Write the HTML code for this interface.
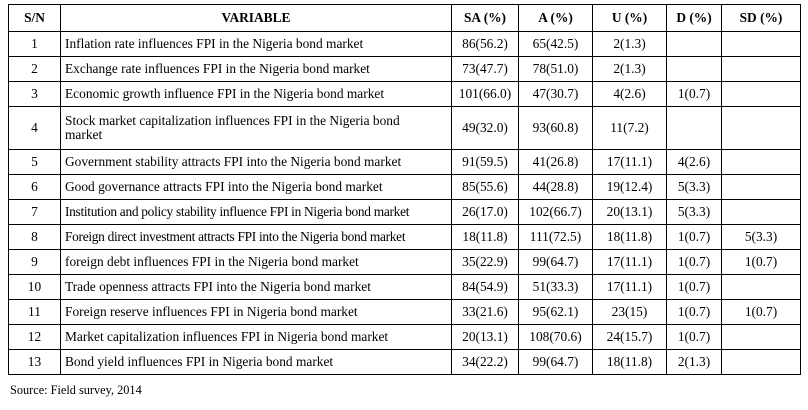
<!DOCTYPE html>
<html><head><meta charset="utf-8"><style>
body{margin:0;background:#fff;width:808px;height:410px;overflow:hidden;font-family:"Liberation Serif",serif;color:#000}
table{position:absolute;left:8px;top:4px;border-collapse:collapse;font-size:13.4px;table-layout:fixed}
td,th{border:1px solid #000;padding:0 4px;line-height:14px;overflow:hidden}
th{height:26px;font-weight:bold;text-align:center}
td{height:24px}
td.c{text-align:center}
tr.tall td{height:42px}
.src{position:absolute;left:10px;top:383px;font-size:12.3px}
</style></head><body>
<table style="width:792px">
<colgroup><col style="width:52px"><col style="width:391px"><col style="width:67px"><col style="width:74px"><col style="width:74px"><col style="width:55px"><col style="width:79px"></colgroup>
<tr><th>S/N</th><th>VARIABLE</th><th>SA (%)</th><th>A (%)</th><th>U (%)</th><th>D (%)</th><th>SD (%)</th></tr>
<tr><td class="c">1</td><td>Inflation rate influences FPI in the Nigeria bond market</td><td class="c">86(56.2)</td><td class="c">65(42.5)</td><td class="c">2(1.3)</td><td></td><td></td></tr>
<tr><td class="c">2</td><td>Exchange rate influences FPI in the Nigeria bond market</td><td class="c">73(47.7)</td><td class="c">78(51.0)</td><td class="c">2(1.3)</td><td></td><td></td></tr>
<tr><td class="c">3</td><td>Economic growth influence FPI in the Nigeria bond market</td><td class="c">101(66.0)</td><td class="c">47(30.7)</td><td class="c">4(2.6)</td><td class="c">1(0.7)</td><td></td></tr>
<tr class="tall"><td class="c">4</td><td>Stock market capitalization influences FPI in the Nigeria bond<br>market</td><td class="c">49(32.0)</td><td class="c">93(60.8)</td><td class="c">11(7.2)</td><td></td><td></td></tr>
<tr><td class="c">5</td><td>Government stability attracts FPI into the Nigeria bond market</td><td class="c">91(59.5)</td><td class="c">41(26.8)</td><td class="c">17(11.1)</td><td class="c">4(2.6)</td><td></td></tr>
<tr><td class="c">6</td><td>Good governance attracts FPI into the Nigeria bond market</td><td class="c">85(55.6)</td><td class="c">44(28.8)</td><td class="c">19(12.4)</td><td class="c">5(3.3)</td><td></td></tr>
<tr><td class="c">7</td><td style="white-space:nowrap;letter-spacing:-0.3px">Institution and policy stability influence FPI in Nigeria bond market</td><td class="c">26(17.0)</td><td class="c">102(66.7)</td><td class="c">20(13.1)</td><td class="c">5(3.3)</td><td></td></tr>
<tr><td class="c">8</td><td style="white-space:nowrap;letter-spacing:-0.3px">Foreign direct investment attracts FPI into the Nigeria bond market</td><td class="c">18(11.8)</td><td class="c">111(72.5)</td><td class="c">18(11.8)</td><td class="c">1(0.7)</td><td class="c">5(3.3)</td></tr>
<tr><td class="c">9</td><td>foreign debt influences FPI in the Nigeria bond market</td><td class="c">35(22.9)</td><td class="c">99(64.7)</td><td class="c">17(11.1)</td><td class="c">1(0.7)</td><td class="c">1(0.7)</td></tr>
<tr><td class="c">10</td><td>Trade openness attracts FPI into the Nigeria bond market</td><td class="c">84(54.9)</td><td class="c">51(33.3)</td><td class="c">17(11.1)</td><td class="c">1(0.7)</td><td></td></tr>
<tr><td class="c">11</td><td>Foreign reserve influences FPI in Nigeria bond market</td><td class="c">33(21.6)</td><td class="c">95(62.1)</td><td class="c">23(15)</td><td class="c">1(0.7)</td><td class="c">1(0.7)</td></tr>
<tr><td class="c">12</td><td style="white-space:nowrap">Market capitalization influences FPI in Nigeria bond market</td><td class="c">20(13.1)</td><td class="c">108(70.6)</td><td class="c">24(15.7)</td><td class="c">1(0.7)</td><td></td></tr>
<tr><td class="c">13</td><td>Bond yield influences FPI in Nigeria bond market</td><td class="c">34(22.2)</td><td class="c">99(64.7)</td><td class="c">18(11.8)</td><td class="c">2(1.3)</td><td></td></tr>
</table>
<div class="src">Source: Field survey, 2014</div>
</body></html>
